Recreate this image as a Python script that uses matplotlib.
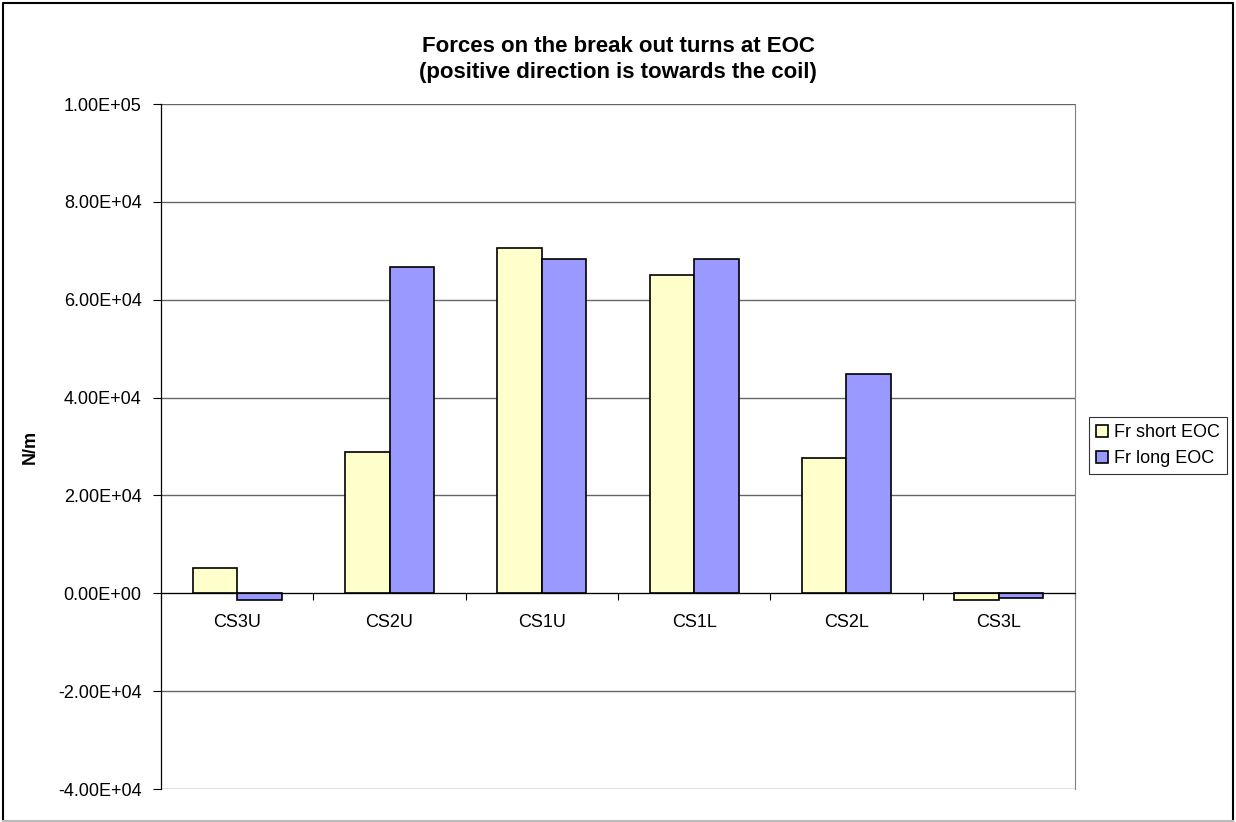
import matplotlib.pyplot as plt
import numpy as np
from matplotlib.lines import Line2D

plt.rcParams['font.family'] = ['Liberation Sans', 'DejaVu Sans']

coils = ["CS3U", "CS2U", "CS1U", "CS1L", "CS2L", "CS3L"]
fr_short = [5.2e3, 28.9e3, 70.6e3, 65.0e3, 27.6e3, -1.3e3]
fr_long = [-1.4e3, 66.6e3, 68.4e3, 68.4e3, 44.8e3, -1.0e3]
series_names = ["Fr short EOC", "Fr long EOC"]
y_ticks = [-4e4, -2e4, 0, 2e4, 4e4, 6e4, 8e4, 1e5]
title_lines = ["Forces on the break out turns at EOC",
               "(positive direction is towards the coil)"]

W, H = 1236, 822
fs = 13
fig = plt.figure(figsize=(W / 100, H / 100), dpi=100)
ax = fig.add_axes([161 / W, 1 - 789 / H, (1075 - 161) / W, (789 - 104) / H])

x = np.arange(len(coils))
bw = 0.293
ax.bar(x - bw / 2, fr_short, bw, color="#FFFFCC", edgecolor="black", linewidth=1.2,
       label=series_names[0], zorder=3)
ax.bar(x + bw / 2, fr_long, bw, color="#9999FF", edgecolor="black", linewidth=1.2,
       label=series_names[1], zorder=3)

ax.set_xlim(-0.5, len(coils) - 0.5)
ax.set_ylim(-4e4, 1e5)
ax.set_yticks(y_ticks)
ax.set_yticklabels([f"{v:.2E}" for v in y_ticks], fontsize=fs)
ax.yaxis.grid(True, color="#666666", linewidth=1.0, zorder=0)
ax.tick_params(axis="y", direction="out", length=6, width=0.8, pad=8)

# category axis sits on zero, ticks between groups
ax.spines["bottom"].set_position(("data", 0))
ax.spines["bottom"].set_zorder(4)
ax.set_xticks(x)
ax.set_xticklabels(coils, fontsize=fs)
ax.set_xticks(np.arange(len(coils) + 1) - 0.5, minor=True)
ax.tick_params(axis="x", which="major", length=0, pad=15)
ax.tick_params(axis="x", which="minor", direction="out", length=5, width=0.8)
ax.spines["top"].set_visible(False)
ax.spines["right"].set_color("#808080")
ax.spines["left"].set_linewidth(0.9)

fig.text(30 / W, 1 - 447 / H, "N/m", rotation=90, fontsize=fs, fontweight="bold",
         ha="center", va="center")
for line, base in zip(title_lines, [52, 78]):
    fig.text(618 / W, 1 - base / H, line, fontsize=16, fontweight="bold",
             ha="center", va="baseline")

leg = fig.legend(loc="upper left", bbox_to_anchor=(1089 / W, 1 - 417 / H), fontsize=fs,
                 frameon=True, fancybox=False, edgecolor="black", handlelength=0.65,
                 handleheight=0.65, handletextpad=0.35, borderpad=0.4, labelspacing=0.5,
                 borderaxespad=0)
leg.get_frame().set_linewidth(0.8)

# outer chart border
fig.add_artist(Line2D([3 / W, 3 / W, 1233 / W, 1233 / W], [1 - 821 / H, 1 - 3 / H, 1 - 3 / H, 1 - 821 / H],
                      color="black", linewidth=1.5, transform=fig.transFigure))
fig.add_artist(Line2D([3 / W, 1233 / W], [1 - 821 / H, 1 - 821 / H],
                      color="#BBBBBB", linewidth=1.5, transform=fig.transFigure))

fig.savefig("out.png", dpi=100)
